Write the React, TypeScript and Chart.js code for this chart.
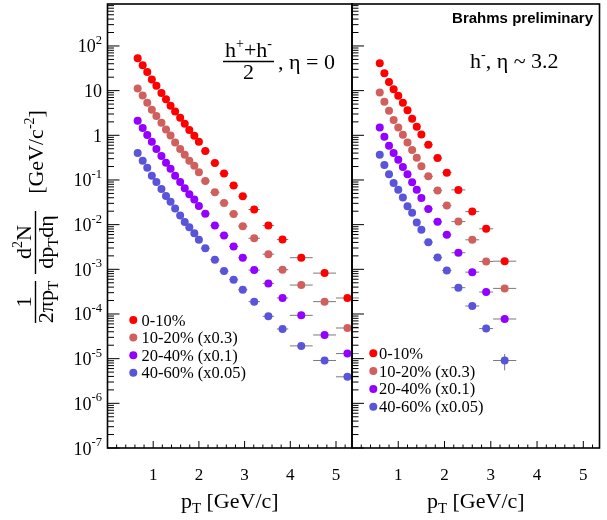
import { useEffect, useRef } from "react";
import { Chart, registerables } from "chart.js";

Chart.register(...registerables);

const W = 607;
const H = 520;
const SERIF = '"Liberation Serif", "Times New Roman", serif';
const SANS = '"Liberation Sans", Arial, sans-serif';

// ---- categories / legend ----
const centralityLabels = ["0-10%", "10-20% (x0.3)", "20-40% (x0.1)", "40-60% (x0.05)"];
const seriesColors = ["#ff0000", "#d0605e", "#9400ff", "#5954d9"];

// ---- axes ----
const xMin = 0;
const xMax = 5.35;
const yMin = 1e-7;
const yMax = 870;
const xTickValues = [1, 2, 3, 4, 5];
const yTickExponents = [-7, -6, -5, -4, -3, -2, -1, 0, 1, 2];

// ---- left panel: (h+ + h-)/2, eta = 0 ----
const ptMid = [0.66, 0.77, 0.87, 0.97, 1.07, 1.18, 1.28, 1.38, 1.48, 1.59, 1.69, 1.79, 1.9, 2.0,
  2.14, 2.35, 2.55, 2.76, 2.96, 3.21, 3.52, 3.83, 4.24, 4.75, 5.25];
const ptMidErr = [0, 0, 0, 0, 0, 0, 0, 0, 0, 0, 0, 0, 0, 0,
  0.1, 0.1, 0.1, 0.1, 0.1, 0.125, 0.125, 0.125, 0.25, 0.25, 0.25];
const mid0_10 = [53.1, 37.1, 26.3, 17.7, 12.8, 8.91, 6.45, 4.57, 3.41, 2.47, 1.81, 1.31, 0.977, 0.718,
  0.445, 0.24, 0.139, 0.0748, 0.0432, 0.0218, 0.00955, 0.00466, 0.00182, 0.000822, 0.000228];
const mid10_20 = [11.1, 7.76, 5.34, 3.72, 2.69, 1.91, 1.35, 0.993, 0.693, 0.493, 0.368, 0.27, 0.209, 0.148,
  0.0952, 0.053, 0.0304, 0.0173, 0.00922, 0.00495, 0.00218, 0.000979, 0.000444, 0.000189, 4.86e-5];
const mid20_40 = [2.11, 1.45, 1.01, 0.718, 0.493, 0.344, 0.244, 0.179, 0.125, 0.0904, 0.065, 0.0478, 0.0364, 0.0263,
  0.0175, 0.00955, 0.00571, 0.00324, 0.00182, 0.00096, 0.000484, 0.000228, 9.33e-5, 3.39e-5, 1.3e-5];
const mid40_60 = [0.402, 0.27, 0.189, 0.125, 0.0904, 0.0631, 0.044, 0.0324, 0.0229, 0.016, 0.0114, 0.00875, 0.00643, 0.00458,
  0.00297, 0.00164, 0.000912, 0.000586, 0.00035, 0.000189, 8.87e-5, 4.62e-5, 1.93e-5, 9.1e-6, 3.92e-6];

// ---- right panel: h-, eta ~ 3.2 ----
const ptFwd = [0.6, 0.7, 0.8, 0.9, 1.0, 1.1, 1.2, 1.3, 1.4, 1.5, 1.65, 1.85, 2.05, 2.3, 2.6, 2.9, 3.3];
const ptFwdErr = [0, 0, 0, 0, 0, 0, 0, 0, 0, 0, 0.1, 0.1, 0.1, 0.15, 0.15, 0.15, 0.25];
const fwd0_10 = [41.1, 24.5, 15.7, 10.8, 7.64, 5.33, 3.66, 2.34, 1.55, 1.04, 0.615, 0.31, 0.146, 0.06, 0.0196, 0.00807, 0.00152];
const fwd10_20 = [9.06, 5.61, 3.53, 2.19, 1.5, 1.03, 0.693, 0.469, 0.316, 0.202, 0.121, 0.0578, 0.0267, 0.0117, 0.00458, 0.0015, 0.000374];
const fwd20_40 = [1.5, 0.929, 0.585, 0.402, 0.285, 0.195, 0.134, 0.0886, 0.0608, 0.0397, 0.0225, 0.0116, 0.00593, 0.00235, 0.000865, 0.00031, 7.73e-5];
const fwd40_60 = [0.368, 0.217, 0.134, 0.0859, 0.0603, 0.0403, 0.0258, 0.0184, 0.0111, 0.00766, 0.00405, 0.00184, 0.000945, 0.000388, 0.000151, 4.71e-5, 9.1e-6];
const fwdRelErr40_60 = [0, 0, 0, 0, 0, 0, 0, 0, 0, 0, 0, 0, 0, 0, 0, 0, 0.4];

type Seg = { t: string; s: number; dy?: number; f?: string };

function segFont(seg: Seg) {
  return seg.f ? seg.f : `${seg.s}px ${SERIF}`;
}

function segsWidth(ctx: CanvasRenderingContext2D, segs: Seg[]) {
  let w = 0;
  for (const seg of segs) {
    ctx.font = segFont(seg);
    w += ctx.measureText(seg.t).width;
  }
  return w;
}

function drawSegs(ctx: CanvasRenderingContext2D, segs: Seg[], x: number, y: number, align: "left" | "center" | "right") {
  const w = segsWidth(ctx, segs);
  let cx = align === "left" ? x : align === "center" ? x - w / 2 : x - w;
  ctx.textAlign = "left";
  ctx.textBaseline = "alphabetic";
  for (const seg of segs) {
    ctx.font = segFont(seg);
    ctx.fillText(seg.t, cx, y + (seg.dy || 0));
    cx += ctx.measureText(seg.t).width;
  }
}

function drawRotated(ctx: CanvasRenderingContext2D, segs: Seg[], baseX: number, centerY: number) {
  ctx.save();
  ctx.translate(baseX, centerY);
  ctx.rotate(-Math.PI / 2);
  drawSegs(ctx, segs, 0, 0, "center");
  ctx.restore();
}

function line(ctx: CanvasRenderingContext2D, x1: number, y1: number, x2: number, y2: number) {
  ctx.moveTo(x1, y1);
  ctx.lineTo(x2, y2);
}

type Side = "left" | "right";

const MARKER_R = 4;

function makeDecor(side: Side) {
  const legendX = side === "left" ? 133.3 : 373.3;
  const legendY = side === "left" ? 320 : 353.3;
  const legendStep = side === "left" ? 17.6 : 17.8;
  const legendTextX = side === "left" ? 141.5 : 379;
  return {
    id: "decor-" + side,
    beforeDatasetsDraw(chart: any) {
      const ctx: CanvasRenderingContext2D = chart.ctx;
      const xs = chart.scales.x;
      const ys = chart.scales.y;
      ctx.save();
      ctx.strokeStyle = "#7a7a7a";
      ctx.lineWidth = 1;
      ctx.beginPath();
      chart.data.datasets.forEach((ds: any) => {
        ds.data.forEach((p: any) => {
          const py = ys.getPixelForValue(p.y);
          const px = xs.getPixelForValue(p.x);
          if (p.ex > 0) {
            line(ctx, xs.getPixelForValue(p.x - p.ex), py, xs.getPixelForValue(p.x + p.ex), py);
          }
          if (p.ey > 0) {
            line(ctx, px, ys.getPixelForValue(p.y * (1 - p.ey)), px, ys.getPixelForValue(p.y * (1 + p.ey)));
          }
        });
      });
      ctx.stroke();
      ctx.restore();
    },
    afterDraw(chart: any) {
      const ctx: CanvasRenderingContext2D = chart.ctx;
      const { left, right, top, bottom } = chart.chartArea;
      const xs = chart.scales.x;
      const ys = chart.scales.y;
      ctx.save();
      // frame
      ctx.strokeStyle = "#000";
      ctx.lineWidth = 1.6;
      ctx.strokeRect(left, top, right - left, bottom - top);
      // y ticks (inside)
      ctx.lineWidth = 1;
      ctx.beginPath();
      for (let e = -7; e <= 2; e++) {
        for (let m = 1; m <= 9; m++) {
          const v = m * Math.pow(10, e);
          if (v < yMin * 0.999 || v > yMax) continue;
          const py = ys.getPixelForValue(v);
          line(ctx, left, py, left + (m === 1 ? 12 : 6.5), py);
        }
      }
      // x ticks (inside)
      for (let k = 1; k * 0.2 <= xMax + 1e-9; k++) {
        const v = k * 0.2;
        const px = xs.getPixelForValue(v);
        line(ctx, px, bottom, px, bottom - (k % 5 === 0 ? 7 : 3.5));
      }
      ctx.stroke();

      ctx.fillStyle = "#000";
      // x tick labels
      xTickValues.forEach((v) => {
        drawSegs(ctx, [{ t: String(v), s: 17 }], xs.getPixelForValue(v), 480, "center");
      });
      // x title
      drawSegs(ctx, [{ t: "p", s: 22 }, { t: "T", s: 15, dy: 5 }, { t: " [GeV/c]", s: 22 }], (left + right) / 2, 508, "center");

      if (side === "left") {
        // y tick labels
        yTickExponents.forEach((e) => {
          const py = ys.getPixelForValue(Math.pow(10, e));
          let segs: Seg[];
          if (e === 0) segs = [{ t: "1", s: 18 }];
          else if (e === 1) segs = [{ t: "10", s: 18 }];
          else segs = [{ t: "10", s: 18 }, { t: String(e), s: 12.5, dy: -8.4 }];
          drawSegs(ctx, segs, 102, py + 6.5, "right");
        });
        // y title
        drawRotated(ctx, [{ t: "1", s: 22 }], 31, 302);
        drawRotated(ctx, [{ t: "2πp", s: 22 }, { t: "T", s: 15, dy: 5 }], 52.5, 302);
        drawRotated(ctx, [{ t: "d", s: 22 }, { t: "2", s: 14, dy: -9 }, { t: "N", s: 22 }], 31, 242);
        drawRotated(ctx, [{ t: "dp", s: 22 }, { t: "T", s: 15, dy: 5 }, { t: "dη", s: 22 }], 52.5, 242);
        drawRotated(ctx, [{ t: "[GeV/c", s: 22 }, { t: "-2", s: 14, dy: -9 }, { t: "]", s: 22 }], 43, 152);
        ctx.lineWidth = 1.4;
        ctx.beginPath();
        line(ctx, 35.5, 281, 35.5, 323);
        line(ctx, 35.5, 211, 35.5, 274);
        // annotation (h+ + h-)/2, eta = 0
        line(ctx, 223, 61.5, 274, 61.5);
        ctx.stroke();
        drawSegs(ctx, [{ t: "h", s: 22 }, { t: "+", s: 14, dy: -9 }, { t: "+", s: 22 }, { t: "h", s: 22 }, { t: "-", s: 14, dy: -9 }], 248.5, 57, "center");
        drawSegs(ctx, [{ t: "2", s: 22 }], 248.5, 79, "center");
        drawSegs(ctx, [{ t: ", η = 0", s: 22 }], 278, 69, "left");
      } else {
        drawSegs(ctx, [{ t: "h", s: 22 }, { t: "-", s: 14, dy: -9 }, { t: ", η ~ 3.2", s: 22 }], 470, 68, "left");
        drawSegs(ctx, [{ t: "Brahms preliminary", s: 15, f: `bold 15px ${SANS}` }], 593, 23, "right");
      }

      // legend
      chart.data.datasets.forEach((ds: any, i: number) => {
        const cy = legendY + i * legendStep;
        ctx.fillStyle = ds.backgroundColor;
        ctx.beginPath();
        ctx.arc(legendX, cy, MARKER_R, 0, Math.PI * 2);
        ctx.fill();
        ctx.fillStyle = "#000";
        drawSegs(ctx, [{ t: ds.label, s: 16.5 }], legendTextX, cy + 5.5, "left");
      });
      ctx.restore();
    },
  };
}

function buildDatasets(pt: number[], ptErr: number[], series: number[][], relErr: (number[] | null)[]) {
  return series.map((vals, i) => ({
    label: centralityLabels[i],
    data: vals.map((v, j) => ({ x: pt[j], y: v, ex: ptErr[j], ey: relErr[i] ? (relErr[i] as number[])[j] : 0 })),
    backgroundColor: seriesColors[i],
    borderColor: seriesColors[i],
    borderWidth: 0,
    pointRadius: MARKER_R,
    pointHoverRadius: MARKER_R,
    showLine: false,
  }));
}

function makeConfig(side: Side): any {
  const datasets =
    side === "left"
      ? buildDatasets(ptMid, ptMidErr, [mid0_10, mid10_20, mid20_40, mid40_60], [null, null, null, null])
      : buildDatasets(ptFwd, ptFwdErr, [fwd0_10, fwd10_20, fwd20_40, fwd40_60], [null, null, null, fwdRelErr40_60]);
  return {
    type: "scatter",
    data: { datasets },
    options: {
      animation: false,
      responsive: false,
      maintainAspectRatio: false,
      events: [],
      layout: {
        padding: side === "left" ? { left: 0, right: W - 352, top: 3, bottom: 0 } : { left: 352, right: 7.5, top: 3, bottom: 0 },
      },
      plugins: { legend: { display: false }, tooltip: { enabled: false } },
      scales: {
        x: {
          type: "linear",
          min: xMin,
          max: xMax,
          ticks: { display: false },
          grid: { display: false },
          border: { display: false },
          afterFit: (s: any) => {
            s.height = 72;
          },
        },
        y: {
          type: "logarithmic",
          min: yMin,
          max: yMax,
          ticks: { display: false },
          grid: { display: false },
          border: { display: false },
          afterFit: (s: any) => {
            s.width = side === "left" ? 107.5 : 0;
          },
        },
      },
    },
    plugins: [makeDecor(side)],
  };
}

export default function App() {
  const leftRef = useRef<HTMLCanvasElement | null>(null);
  const rightRef = useRef<HTMLCanvasElement | null>(null);

  useEffect(() => {
    const charts: Chart[] = [];
    if (leftRef.current) charts.push(new Chart(leftRef.current, makeConfig("left")));
    if (rightRef.current) charts.push(new Chart(rightRef.current, makeConfig("right")));
    return () => {
      charts.forEach((c) => c.destroy());
    };
  }, []);

  const canvasStyle: any = { position: "absolute", left: 0, top: 0, width: W, height: H };
  return (
    <div style={{ position: "fixed", left: 0, top: 0, width: W, height: H, background: "#fff" }}>
      <canvas ref={leftRef} width={W} height={H} style={canvasStyle} />
      <canvas ref={rightRef} width={W} height={H} style={canvasStyle} />
    </div>
  );
}
